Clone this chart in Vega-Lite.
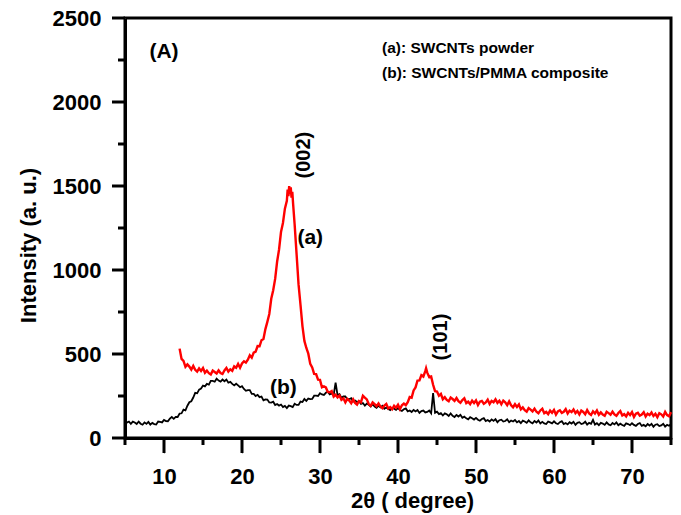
{
  "$schema": "https://vega.github.io/schema/vega-lite/v6.json",
  "width": 546,
  "height": 420,
  "autosize": "none",
  "padding": {"left": 125, "top": 18, "right": 10, "bottom": 77},
  "background": "white",
  "config": {
    "font": "Liberation Sans",
    "view": {"stroke": "black", "strokeWidth": 3},
    "axis": {"grid": false, "domainColor": "black", "domainWidth": 3, "labelColor": "black", "titleColor": "black", "labelFont": "Liberation Sans", "titleFont": "Liberation Sans", "labelFontWeight": "bold", "titleFontWeight": "bold", "labelFontSize": 22, "titleFontSize": 22}
  },
  "datasets": {
    "b": [
      {"t":5,"i":107},{"t":5.25,"i":92},{"t":5.5,"i":98},{"t":5.75,"i":84},{"t":6,"i":97},{"t":6.25,"i":92},{"t":6.5,"i":83},{"t":6.75,"i":98},
      {"t":7,"i":85},{"t":7.25,"i":79},{"t":7.5,"i":93},{"t":7.75,"i":84},{"t":8,"i":96},{"t":8.25,"i":80},{"t":8.5,"i":90},{"t":8.75,"i":83},
      {"t":9,"i":81},{"t":9.25,"i":98},{"t":9.5,"i":96},{"t":9.75,"i":93},{"t":10,"i":108},{"t":10.25,"i":101},{"t":10.5,"i":100},{"t":10.75,"i":115},
      {"t":11,"i":125},{"t":11.25,"i":114},{"t":11.5,"i":126},{"t":11.75,"i":125},{"t":12,"i":145},{"t":12.25,"i":147},{"t":12.5,"i":169},{"t":12.75,"i":165},
      {"t":13,"i":192},{"t":13.25,"i":213},{"t":13.5,"i":219},{"t":13.75,"i":241},{"t":14,"i":269},{"t":14.25,"i":266},{"t":14.5,"i":288},{"t":14.75,"i":294},
      {"t":15,"i":312},{"t":15.25,"i":307},{"t":15.5,"i":322},{"t":15.75,"i":318},{"t":16,"i":340},{"t":16.25,"i":340},{"t":16.5,"i":335},{"t":16.75,"i":353},
      {"t":17,"i":342},{"t":17.25,"i":336},{"t":17.5,"i":348},{"t":17.75,"i":338},{"t":18,"i":348},{"t":18.25,"i":329},{"t":18.5,"i":334},{"t":18.75,"i":322},
      {"t":19,"i":313},{"t":19.25,"i":323},{"t":19.5,"i":313},{"t":19.75,"i":302},{"t":20,"i":308},{"t":20.25,"i":292},{"t":20.5,"i":281},{"t":20.75,"i":285},
      {"t":21,"i":285},{"t":21.25,"i":263},{"t":21.5,"i":263},{"t":21.75,"i":250},{"t":22,"i":257},{"t":22.25,"i":243},{"t":22.5,"i":247},{"t":22.75,"i":224},
      {"t":23,"i":230},{"t":23.25,"i":229},{"t":23.5,"i":212},{"t":23.75,"i":211},{"t":24,"i":216},{"t":24.25,"i":196},{"t":24.5,"i":202},{"t":24.75,"i":193},
      {"t":25,"i":199},{"t":25.25,"i":184},{"t":25.5,"i":191},{"t":25.75,"i":178},{"t":26,"i":193},{"t":26.25,"i":190},{"t":26.5,"i":184},{"t":26.75,"i":204},
      {"t":27,"i":197},{"t":27.25,"i":197},{"t":27.5,"i":217},{"t":27.75,"i":214},{"t":28,"i":232},{"t":28.25,"i":221},{"t":28.5,"i":235},{"t":28.75,"i":232},
      {"t":29,"i":233},{"t":29.25,"i":252},{"t":29.5,"i":252},{"t":29.75,"i":250},{"t":30,"i":266},{"t":30.25,"i":259},{"t":30.5,"i":256},{"t":30.75,"i":269},
      {"t":31,"i":276},{"t":31.25,"i":260},{"t":31.5,"i":265},{"t":31.75,"i":256},{"t":32,"i":330},{"t":32.25,"i":255},{"t":32.5,"i":261},{"t":32.75,"i":239},
      {"t":33,"i":247},{"t":33.25,"i":247},{"t":33.5,"i":231},{"t":33.75,"i":231},{"t":34,"i":237},{"t":34.25,"i":217},{"t":34.5,"i":223},{"t":34.75,"i":214},
      {"t":35,"i":219},{"t":35.25,"i":203},{"t":35.5,"i":208},{"t":35.75,"i":193},{"t":36,"i":205},{"t":36.25,"i":198},{"t":36.5,"i":188},{"t":36.75,"i":201},
      {"t":37,"i":187},{"t":37.25,"i":180},{"t":37.5,"i":192},{"t":37.75,"i":182},{"t":38,"i":192},{"t":38.25,"i":174},{"t":38.5,"i":181},{"t":38.75,"i":172},
      {"t":39,"i":166},{"t":39.25,"i":180},{"t":39.5,"i":174},{"t":39.75,"i":167},{"t":40,"i":178},{"t":40.25,"i":167},{"t":40.5,"i":161},{"t":40.75,"i":171},
      {"t":41,"i":176},{"t":41.25,"i":159},{"t":41.5,"i":164},{"t":41.75,"i":155},{"t":42,"i":167},{"t":42.25,"i":158},{"t":42.5,"i":167},{"t":42.75,"i":149},
      {"t":43,"i":160},{"t":43.25,"i":163},{"t":43.5,"i":152},{"t":43.75,"i":155},{"t":44,"i":164},{"t":44.25,"i":147},{"t":44.5,"i":268},{"t":44.75,"i":150},
      {"t":45,"i":157},{"t":45.25,"i":142},{"t":45.5,"i":148},{"t":45.75,"i":134},{"t":46,"i":147},{"t":46.25,"i":141},{"t":46.5,"i":131},{"t":46.75,"i":146},
      {"t":47,"i":132},{"t":47.25,"i":125},{"t":47.5,"i":137},{"t":47.75,"i":128},{"t":48,"i":138},{"t":48.25,"i":120},{"t":48.5,"i":127},{"t":48.75,"i":117},
      {"t":49,"i":111},{"t":49.25,"i":124},{"t":49.5,"i":118},{"t":49.75,"i":110},{"t":50,"i":120},{"t":50.25,"i":109},{"t":50.5,"i":103},{"t":50.75,"i":113},
      {"t":51,"i":118},{"t":51.25,"i":101},{"t":51.5,"i":107},{"t":51.75,"i":98},{"t":52,"i":111},{"t":52.25,"i":102},{"t":52.5,"i":112},{"t":52.75,"i":94},
      {"t":53,"i":106},{"t":53.25,"i":109},{"t":53.5,"i":98},{"t":53.75,"i":101},{"t":54,"i":111},{"t":54.25,"i":94},{"t":54.5,"i":104},{"t":54.75,"i":98},
      {"t":55,"i":107},{"t":55.25,"i":93},{"t":55.5,"i":101},{"t":55.75,"i":88},{"t":56,"i":103},{"t":56.25,"i":98},{"t":56.5,"i":90},{"t":56.75,"i":105},
      {"t":57,"i":93},{"t":57.25,"i":87},{"t":57.5,"i":101},{"t":57.75,"i":92},{"t":58,"i":104},{"t":58.25,"i":87},{"t":58.5,"i":96},{"t":58.75,"i":87},
      {"t":59,"i":83},{"t":59.25,"i":98},{"t":59.5,"i":93},{"t":59.75,"i":87},{"t":60,"i":99},{"t":60.25,"i":88},{"t":60.5,"i":83},{"t":60.75,"i":94},
      {"t":61,"i":100},{"t":61.25,"i":83},{"t":61.5,"i":89},{"t":61.75,"i":81},{"t":62,"i":94},{"t":62.25,"i":86},{"t":62.5,"i":96},{"t":62.75,"i":78},
      {"t":63,"i":90},{"t":63.25,"i":94},{"t":63.5,"i":83},{"t":63.75,"i":87},{"t":64,"i":97},{"t":64.25,"i":80},{"t":64.5,"i":90},{"t":64.75,"i":85},
      {"t":65,"i":108},{"t":65.25,"i":80},{"t":65.5,"i":88},{"t":65.75,"i":76},{"t":66,"i":90},{"t":66.25,"i":86},{"t":66.5,"i":78},{"t":66.75,"i":93},
      {"t":67,"i":81},{"t":67.25,"i":76},{"t":67.5,"i":89},{"t":67.75,"i":81},{"t":68,"i":93},{"t":68.25,"i":76},{"t":68.5,"i":85},{"t":68.75,"i":77},
      {"t":69,"i":72},{"t":69.25,"i":87},{"t":69.5,"i":83},{"t":69.75,"i":76},{"t":70,"i":88},{"t":70.25,"i":78},{"t":70.5,"i":72},{"t":70.75,"i":83},
      {"t":71,"i":89},{"t":71.25,"i":72},{"t":71.5,"i":78},{"t":71.75,"i":70},{"t":72,"i":83},{"t":72.25,"i":74},{"t":72.5,"i":84},{"t":72.75,"i":67},
      {"t":73,"i":79},{"t":73.25,"i":82},{"t":73.5,"i":71},{"t":73.75,"i":75},{"t":74,"i":85},{"t":74.25,"i":68},{"t":74.5,"i":78},{"t":74.75,"i":73},
      {"t":75,"i":82}
    ],
    "a": [
      {"t":12,"i":532},{"t":12.25,"i":471},{"t":12.5,"i":459},{"t":12.75,"i":424},{"t":13,"i":438},{"t":13.25,"i":425},{"t":13.5,"i":407},{"t":13.75,"i":429},
      {"t":14,"i":406},{"t":14.25,"i":395},{"t":14.5,"i":414},{"t":14.75,"i":399},{"t":15,"i":416},{"t":15.25,"i":388},{"t":15.5,"i":401},{"t":15.75,"i":386},
      {"t":16,"i":378},{"t":16.25,"i":401},{"t":16.5,"i":393},{"t":16.75,"i":384},{"t":17,"i":403},{"t":17.25,"i":387},{"t":17.5,"i":381},{"t":17.75,"i":402},
      {"t":18,"i":417},{"t":18.25,"i":395},{"t":18.5,"i":409},{"t":18.75,"i":400},{"t":19,"i":426},{"t":19.25,"i":418},{"t":19.5,"i":441},{"t":19.75,"i":418},
      {"t":20,"i":444},{"t":20.25,"i":457},{"t":20.5,"i":449},{"t":20.75,"i":466},{"t":21,"i":492},{"t":21.25,"i":478},{"t":21.5,"i":508},{"t":21.75,"i":514},
      {"t":22,"i":547},{"t":22.25,"i":546},{"t":22.5,"i":582},{"t":22.75,"i":589},{"t":23,"i":648},{"t":23.25,"i":691},{"t":23.5,"i":738},{"t":23.75,"i":829},
      {"t":24,"i":880},{"t":24.25,"i":947},{"t":24.5,"i":1049},{"t":24.75,"i":1122},{"t":25,"i":1226},{"t":25.25,"i":1280},{"t":25.5,"i":1365},{"t":25.75,"i":1412},
      {"t":25.85,"i":1478},{"t":25.95,"i":1440},{"t":26.05,"i":1500},{"t":26.15,"i":1452},{"t":26.25,"i":1492},{"t":26.35,"i":1430},{"t":26.45,"i":1465},{"t":26.55,"i":1395},
      {"t":26.75,"i":1270},{"t":27,"i":1093},{"t":27.25,"i":914},{"t":27.5,"i":793},{"t":27.75,"i":666},{"t":28,"i":578},{"t":28.25,"i":536},{"t":28.5,"i":502},
      {"t":28.75,"i":441},{"t":29,"i":420},{"t":29.25,"i":382},{"t":29.5,"i":380},{"t":29.75,"i":347},{"t":30,"i":346},{"t":30.25,"i":302},{"t":30.5,"i":308},
      {"t":30.75,"i":301},{"t":31,"i":274},{"t":31.25,"i":272},{"t":31.5,"i":279},{"t":31.75,"i":246},{"t":32,"i":257},{"t":32.25,"i":242},{"t":32.5,"i":253},
      {"t":32.75,"i":227},{"t":33,"i":236},{"t":33.25,"i":212},{"t":33.5,"i":233},{"t":33.75,"i":223},{"t":34,"i":207},{"t":34.25,"i":230},{"t":34.5,"i":209},
      {"t":34.75,"i":199},{"t":35,"i":220},{"t":35.25,"i":212},{"t":35.5,"i":251},{"t":35.75,"i":240},{"t":36,"i":230},{"t":36.25,"i":202},{"t":36.5,"i":191},
      {"t":36.75,"i":212},{"t":37,"i":202},{"t":37.25,"i":190},{"t":37.5,"i":206},{"t":37.75,"i":187},{"t":38,"i":177},{"t":38.25,"i":193},{"t":38.5,"i":203},
      {"t":38.75,"i":176},{"t":39,"i":184},{"t":39.25,"i":171},{"t":39.5,"i":192},{"t":39.75,"i":180},{"t":40,"i":198},{"t":40.25,"i":172},{"t":40.5,"i":195},
      {"t":40.75,"i":205},{"t":41,"i":195},{"t":41.25,"i":213},{"t":41.5,"i":244},{"t":41.75,"i":240},{"t":42,"i":283},{"t":42.25,"i":301},{"t":42.5,"i":342},
      {"t":42.75,"i":343},{"t":43,"i":374},{"t":43.25,"i":366},{"t":43.5,"i":398},{"t":43.6,"i":415},{"t":43.75,"i":389},{"t":44,"i":363},{"t":44.25,"i":366},
      {"t":44.5,"i":317},{"t":44.75,"i":279},{"t":45,"i":277},{"t":45.25,"i":251},{"t":45.5,"i":262},{"t":45.75,"i":231},{"t":46,"i":243},{"t":46.25,"i":227},
      {"t":46.5,"i":219},{"t":46.75,"i":241},{"t":47,"i":232},{"t":47.25,"i":221},{"t":47.5,"i":238},{"t":47.75,"i":219},{"t":48,"i":210},{"t":48.25,"i":226},
      {"t":48.5,"i":236},{"t":48.75,"i":208},{"t":49,"i":216},{"t":49.25,"i":202},{"t":49.5,"i":222},{"t":49.75,"i":208},{"t":50,"i":224},{"t":50.25,"i":196},
      {"t":50.5,"i":216},{"t":50.75,"i":221},{"t":51,"i":204},{"t":51.25,"i":212},{"t":51.5,"i":228},{"t":51.75,"i":203},{"t":52,"i":221},{"t":52.25,"i":213},
      {"t":52.5,"i":230},{"t":52.75,"i":209},{"t":53,"i":222},{"t":53.25,"i":201},{"t":53.5,"i":223},{"t":53.75,"i":213},{"t":54,"i":196},{"t":54.25,"i":218},
      {"t":54.5,"i":195},{"t":54.75,"i":183},{"t":55,"i":201},{"t":55.25,"i":185},{"t":55.5,"i":200},{"t":55.75,"i":170},{"t":56,"i":182},{"t":56.25,"i":166},
      {"t":56.5,"i":157},{"t":56.75,"i":178},{"t":57,"i":169},{"t":57.25,"i":158},{"t":57.5,"i":175},{"t":57.75,"i":156},{"t":58,"i":147},{"t":58.25,"i":164},
      {"t":58.5,"i":174},{"t":58.75,"i":147},{"t":59,"i":155},{"t":59.25,"i":142},{"t":59.5,"i":163},{"t":59.75,"i":150},{"t":60,"i":167},{"t":60.25,"i":139},
      {"t":60.5,"i":159},{"t":60.75,"i":165},{"t":61,"i":149},{"t":61.25,"i":156},{"t":61.5,"i":172},{"t":61.75,"i":146},{"t":62,"i":163},{"t":62.25,"i":154},
      {"t":62.5,"i":170},{"t":62.75,"i":148},{"t":63,"i":161},{"t":63.25,"i":140},{"t":63.5,"i":163},{"t":63.75,"i":155},{"t":64,"i":141},{"t":64.25,"i":166},
      {"t":64.5,"i":146},{"t":64.75,"i":137},{"t":65,"i":159},{"t":65.25,"i":146},{"t":65.5,"i":164},{"t":65.75,"i":138},{"t":66,"i":152},{"t":66.25,"i":139},
      {"t":66.5,"i":132},{"t":66.75,"i":156},{"t":67,"i":148},{"t":67.25,"i":139},{"t":67.5,"i":157},{"t":67.75,"i":140},{"t":68,"i":132},{"t":68.25,"i":149},
      {"t":68.5,"i":160},{"t":68.75,"i":134},{"t":69,"i":142},{"t":69.25,"i":129},{"t":69.5,"i":150},{"t":69.75,"i":137},{"t":70,"i":154},{"t":70.25,"i":125},
      {"t":70.5,"i":145},{"t":70.75,"i":150},{"t":71,"i":133},{"t":71.25,"i":140},{"t":71.5,"i":154},{"t":71.75,"i":128},{"t":72,"i":145},{"t":72.25,"i":136},
      {"t":72.5,"i":152},{"t":72.75,"i":131},{"t":73,"i":144},{"t":73.25,"i":124},{"t":73.5,"i":148},{"t":73.75,"i":141},{"t":74,"i":128},{"t":74.25,"i":155},
      {"t":74.5,"i":136},{"t":74.75,"i":129},{"t":75,"i":154}
    ],
    "xMajor": [{"t":10},{"t":20},{"t":30},{"t":40},{"t":50},{"t":60},{"t":70}],
    "xMinor": [{"t":5},{"t":15},{"t":25},{"t":35},{"t":45},{"t":55},{"t":65},{"t":75}],
    "yMajor": [{"i":0},{"i":500},{"i":1000},{"i":1500},{"i":2000},{"i":2500}],
    "yMinor": [{"i":250},{"i":750},{"i":1250},{"i":1750},{"i":2250}],
    "labelsH": [
      {"t":10,"i":2298,"label":"(A)"},
      {"t":28.75,"i":1190,"label":"(a)"},
      {"t":25.3,"i":298,"label":"(b)"}
    ],
    "labelsV": [
      {"t":28,"i":1684,"label":"(002)"},
      {"t":45.5,"i":601,"label":"(101)"}
    ],
    "legend": [
      {"t":37.95,"i":2321,"label":"(a): SWCNTs powder"},
      {"t":37.95,"i":2175,"label":"(b): SWCNTs/PMMA composite"}
    ]
  },
  "resolve": {"axis": {"x": "independent", "y": "independent"}},
  "layer": [
    {
      "data": {"name": "b"},
      "mark": {"type": "line", "color": "#000000", "strokeWidth": 1.8},
      "encoding": {
        "x": {"field": "t", "type": "quantitative", "scale": {"domain": [5, 75], "nice": false, "zero": false},
          "axis": {"orient": "bottom", "values": [10,20,30,40,50,60,70], "tickSize": 15, "labelPadding": 13, "labelFlush": false, "labelOverlap": false,
            "title": "2θ ( degree)", "titleX": 287, "titleY": 62, "titleAlign": "center", "titleBaseline": "middle", "titleAnchor": null}},
        "y": {"field": "i", "type": "quantitative", "scale": {"domain": [0, 2500], "nice": false, "zero": true},
          "axis": {"orient": "left", "values": [0,500,1000,1500,2000,2500], "format": "d", "tickSize": 13, "labelPadding": 11, "labelFlush": false, "labelOverlap": false,
            "title": "Intensity (a. u.)", "titleAngle": 270, "titleX": -97, "titleY": 227, "titleAlign": "center", "titleBaseline": "middle", "titleAnchor": null}}
      }
    },
    {
      "data": {"name": "a"},
      "mark": {"type": "line", "color": "#ff0000", "strokeWidth": 2.4},
      "encoding": {
        "x": {"field": "t", "type": "quantitative", "axis": null},
        "y": {"field": "i", "type": "quantitative", "axis": null}
      }
    },
    {
      "data": {"name": "xMajor"},
      "mark": {"type": "tick", "orient": "vertical", "clip": false, "color": "black", "opacity": 1, "size": 15, "thickness": 3, "yOffset": 7.5},
      "encoding": {"x": {"field": "t", "type": "quantitative", "axis": null}, "y": {"datum": 0, "type": "quantitative", "axis": null}}
    },
    {
      "data": {"name": "xMinor"},
      "mark": {"type": "tick", "orient": "vertical", "clip": false, "color": "black", "opacity": 1, "size": 7, "thickness": 3, "yOffset": 3.5},
      "encoding": {"x": {"field": "t", "type": "quantitative", "axis": null}, "y": {"datum": 0, "type": "quantitative", "axis": null}}
    },
    {
      "data": {"name": "yMajor"},
      "mark": {"type": "tick", "orient": "horizontal", "clip": false, "color": "black", "opacity": 1, "size": 13, "thickness": 3, "xOffset": -6.5},
      "encoding": {"y": {"field": "i", "type": "quantitative", "axis": null}, "x": {"datum": 5, "type": "quantitative", "axis": null}}
    },
    {
      "data": {"name": "yMinor"},
      "mark": {"type": "tick", "orient": "horizontal", "clip": false, "color": "black", "opacity": 1, "size": 7, "thickness": 3, "xOffset": -3.5},
      "encoding": {"y": {"field": "i", "type": "quantitative", "axis": null}, "x": {"datum": 5, "type": "quantitative", "axis": null}}
    },
    {
      "data": {"name": "labelsH"},
      "mark": {"type": "text", "font": "Liberation Sans", "fontWeight": "bold", "fontSize": 21, "align": "center", "baseline": "middle", "color": "black"},
      "encoding": {"x": {"field": "t", "type": "quantitative", "axis": null}, "y": {"field": "i", "type": "quantitative", "axis": null}, "text": {"field": "label"}}
    },
    {
      "data": {"name": "labelsV"},
      "mark": {"type": "text", "font": "Liberation Sans", "fontWeight": "bold", "fontSize": 20, "angle": 270, "align": "center", "baseline": "middle", "color": "black"},
      "encoding": {"x": {"field": "t", "type": "quantitative", "axis": null}, "y": {"field": "i", "type": "quantitative", "axis": null}, "text": {"field": "label"}}
    },
    {
      "data": {"name": "legend"},
      "mark": {"type": "text", "font": "Liberation Sans", "fontWeight": "bold", "fontSize": 15.5, "align": "left", "baseline": "middle", "color": "black"},
      "encoding": {"x": {"field": "t", "type": "quantitative", "axis": null}, "y": {"field": "i", "type": "quantitative", "axis": null}, "text": {"field": "label"}}
    }
  ]
}
